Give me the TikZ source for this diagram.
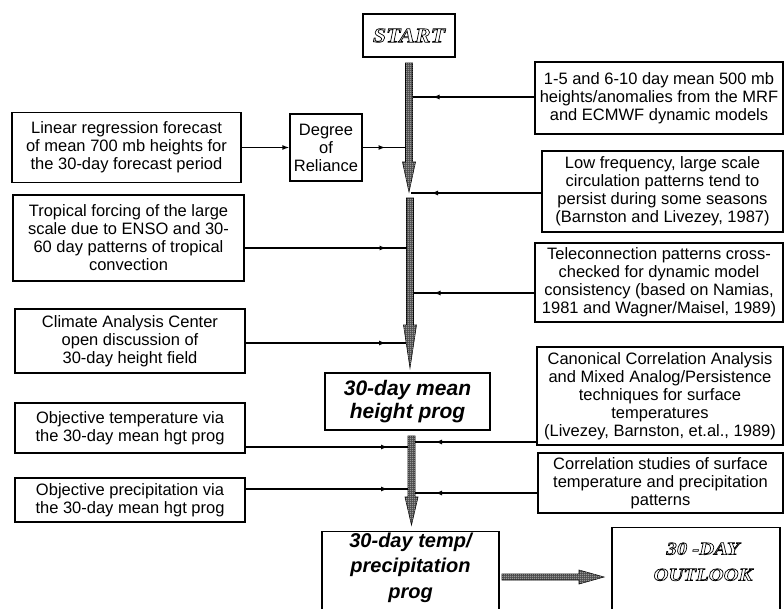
\documentclass[tikz,border=0pt]{standalone}
\usepackage{fontspec}
\setmainfont{Liberation Sans}
\newfontfamily\hollowfont{Liberation Serif}[FakeStretch=1.15]
\usetikzlibrary{arrows.meta, patterns, decorations.markings, calc}

% outlined letters (stroke only)
\newcommand\hollow[1]{\special{pdf:literal direct 1 Tr 0.7 w}#1\special{pdf:literal direct 0 Tr}}

% fine dots used inside the wide arrows
\pgfdeclarepatternformonly{finedots}{\pgfpointorigin}{\pgfpoint{2pt}{2pt}}{\pgfpoint{2pt}{2pt}}{%
  \pgfpathrectangle{\pgfpoint{0.5pt}{0.5pt}}{\pgfpoint{1pt}{1pt}}%
  \pgfusepath{fill}}

% wide hatched arrows: from, tip, head length
\newcommand\shaftdown[3]{%
  \path[fatbody] let \p1=(#1), \p2=(#2) in
    (\x1-3.5pt,\y1) -- (\x1+3.5pt,\y1) -- (\x1+3.5pt,\y2+#3) -- (\x1+6.5pt,\y2+#3)
    -- (\x1,\y2) -- (\x1-6.5pt,\y2+#3) -- (\x1-3.5pt,\y2+#3) -- cycle;}
\newcommand\shaftright[3]{%
  \path[fatbody] let \p1=(#1), \p2=(#2) in
    (\x1,\y1+3pt) -- (\x2-#3,\y1+3pt) -- (\x2-#3,\y1+7pt) -- (\x2,\y1)
    -- (\x2-#3,\y1-7pt) -- (\x2-#3,\y1-3pt) -- (\x1,\y1-3pt) -- cycle;}

\begin{document}
\begin{tikzpicture}[
    x=1pt, y=-1pt,
    box/.style={draw, line width=1.3pt, align=center, inner sep=2pt,
                font=\fontsize{16.5}{18}\selectfont},
    prog/.style={draw, line width=1.3pt, align=center, inner sep=2pt,
                 font=\fontsize{21}{23}\selectfont\bfseries\itshape},
    titlebox/.style={draw, line width=1.3pt, align=center, inner sep=2pt,
                     font=\hollowfont\bfseries\itshape},
    feed/.style={line width=1.6pt, postaction={decorate, decoration={markings,
                 mark=at position -20pt with {\arrow{Latex[length=7pt,width=5pt]}}}}},
    fatbody/.style={draw, line width=0.6pt, fill=black!70,
                    postaction={pattern=finedots, pattern color=white}},
]
\useasboundingbox (0,0) rectangle (784,608);

% ---- Centre column ----
\node[titlebox, minimum width=92, minimum height=43,
      font=\hollowfont\bfseries\itshape\fontsize{20.5}{22}\selectfont] (start) at (409,35.5)
    {\hollow{START}};
\node[prog, minimum width=165, minimum height=57] (heightprog) at (407.5,401.5)
    {30-day mean\\height prog};
\node[prog, anchor=north, minimum width=177, inner ysep=1pt,
      font=\fontsize{20}{25.5}\selectfont\bfseries\itshape] (tempprog) at (410.5,531)
    {30-day temp/\\precipitation\\prog\\[30pt]};
\node[titlebox, anchor=north, minimum width=168, inner ysep=15pt,
      font=\hollowfont\bfseries\itshape\fontsize{18}{26}\selectfont] (outlook) at (696,527)
    {\hspace*{14pt}\hollow{30 -DAY}\\\hspace*{14pt}\hollow{OUTLOOK}\\[20pt]};

% hatched flow
\coordinate (s1a) at (409,63);   \coordinate (s1b) at (409,192);
\coordinate (s2a) at (410,198);  \coordinate (s2b) at (410,368);
\coordinate (s3a) at (411.5,436); \coordinate (s3b) at (411.5,525);
\coordinate (h1a) at (502,577);  \coordinate (h1b) at (604,577);
\shaftdown{s1a}{s1b}{30pt}
\shaftdown{s2a}{s2b}{43pt}
\shaftdown{s3a}{s3b}{28pt}
\shaftright{h1a}{h1b}{25pt}

% ---- Left inputs ----
\node[box, minimum width=229, minimum height=70] (linreg) at (126.5,147.5)
    {Linear regression forecast\\of mean 700 mb heights for\\the 30-day forecast period};
\node[box, minimum width=72, minimum height=67] (reliance) at (326,147.5)
    {Degree\\of\\Reliance};
\node[box, minimum width=231, minimum height=86] (tropical) at (128.5,238)
    {Tropical forcing of the large\\scale due to ENSO and 30-\\60 day patterns of tropical\\convection};
\node[box, minimum width=230, minimum height=64] (cac) at (130,341)
    {Climate Analysis Center\\open discussion of\\30-day height field};
\node[box, minimum width=230, minimum height=50] (objtemp) at (130,428)
    {Objective temperature via\\the 30-day mean hgt prog};
\node[box, minimum width=230, minimum height=44] (objprecip) at (130,500)
    {Objective precipitation via\\the 30-day mean hgt prog};

% ---- Right inputs ----
\node[box, minimum width=248, minimum height=72] (mrf) at (659,98)
    {1-5 and 6-10 day mean 500 mb\\heights/anomalies from the MRF\\and ECMWF dynamic models};
\node[box, minimum width=241, minimum height=81] (lowfreq) at (662.5,191.5)
    {Low frequency, large scale\\circulation patterns tend to\\persist during some seasons\\(Barnston and Livezey, 1987)};
\node[box, minimum width=248, minimum height=79] (telecon) at (659,282.5)
    {Teleconnection patterns cross-\\checked for dynamic model\\consistency (based on Namias,\\1981 and Wagner/Maisel, 1989)};
\node[box, minimum width=246, minimum height=98] (cca) at (660,396)
    {Canonical Correlation Analysis\\and Mixed Analog/Persistence\\techniques for surface\\temperatures\\(Livezey, Barnston, et.al., 1989)};
\node[box, minimum width=245, minimum height=60] (corrstud) at (660.5,483)
    {Correlation studies of surface\\temperature and precipitation\\patterns};

% ---- Feeds into the column ----
\coordinate (jrel)  at (405.5,147.5);
\coordinate (jtrop) at (406.5,248);
\coordinate (jcac)  at (406,343);
\coordinate (jtemp) at (408,447);
\coordinate (jprec) at (408,489);
\coordinate (jmrf)  at (412.5,97);
\coordinate (jlow)  at (411,193);
\coordinate (jtel)  at (413.5,293);
\coordinate (jcca)  at (415,442);
\coordinate (jcor)  at (415,493);

\draw[line width=1.6pt, -{Latex[length=7pt,width=5pt]}] (linreg) -- (reliance);
\draw[feed] (reliance) -- (jrel);
\draw[feed] (tropical.east |- jtrop) -- (jtrop);
\draw[feed] (cac.east |- jcac) -- (jcac);
\draw[feed] (objtemp.east |- jtemp) -- (jtemp);
\draw[feed] (objprecip.east |- jprec) -- (jprec);
\draw[feed] (mrf.west |- jmrf) -- (jmrf);
\draw[feed] (lowfreq.west |- jlow) -- (jlow);
\draw[feed] (telecon.west |- jtel) -- (jtel);
\draw[feed] (cca.west |- jcca) -- (jcca);
\draw[feed] (corrstud.west |- jcor) -- (jcor);

\end{tikzpicture}
\end{document}
